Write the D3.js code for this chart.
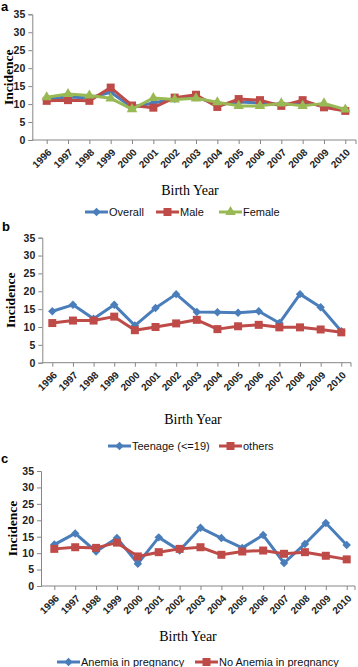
<!DOCTYPE html>
<html>
<head>
<meta charset="utf-8">
<script src="https://cdn.jsdelivr.net/npm/d3@7"></script>
<style>
  body { margin: 0; background: #fff; }
  svg { display: block; }
</style>
</head>
<body>
<svg class="chart" width="358" height="667"></svg>
<script>
// data
const years = ["1996","1997","1998","1999","2000","2001","2002","2003","2004","2005","2006","2007","2008","2009","2010"];
const yTicks = [0, 5, 10, 15, 20, 25, 30, 35];

// panel a
const overall = [11.4, 12.0, 11.7, 13.3, 9.1, 10.3, 11.5, 12.0, 9.8, 10.6, 10.3, 9.9, 10.2, 9.6, 8.3];
const male    = [10.9, 11.1, 10.9, 14.6, 9.6, 9.0, 11.8, 12.6, 9.2, 11.4, 11.1, 9.5, 11.1, 9.1, 8.1];
const female  = [11.9, 12.8, 12.4, 11.6, 8.6, 11.7, 11.3, 11.6, 10.5, 9.5, 9.5, 10.2, 9.5, 10.2, 8.5];

// panel b
const teenage = [14.4, 16.2, 12.3, 16.2, 10.4, 15.3, 19.2, 14.2, 14.1, 14.0, 14.4, 11.1, 19.2, 15.5, 8.8];
const others  = [11.1, 11.8, 11.8, 12.9, 9.1, 10.0, 11.0, 12.0, 9.4, 10.2, 10.6, 9.9, 9.9, 9.3, 8.5];

// panel c
const anemia   = [12.6, 16.0, 10.5, 14.6, 6.8, 14.8, 10.8, 17.7, 14.6, 11.6, 15.5, 7.0, 12.8, 19.2, 12.5];
const noAnemia = [11.3, 11.8, 11.6, 13.2, 9.0, 10.3, 11.3, 11.8, 9.5, 10.5, 10.8, 9.8, 10.3, 9.2, 8.1];

const BLUE = "#4a7ebb", RED = "#be4b48", GREEN = "#98b954";

// excel-like diamond (a square turned 45deg)
const symbolRhomb = {
    draw(ctx, size){
        const r = Math.sqrt(size / 2);
        ctx.moveTo(0, -r);
        ctx.lineTo(r, 0);
        ctx.lineTo(0, r);
        ctx.lineTo(-r, 0);
        ctx.closePath();
    }
};

const svg = d3.select(".chart");

// one panel of the figure
function drawPanel(p){
    const g = svg.append("g");

    const x = d3.scalePoint().domain(years).range([p.x0, p.x1]);
    const y = d3.scaleLinear().domain([0, 35]).range([p.bottom, p.top]);

    // y axis
    const yAxis = g.append("g")
        .attr("transform", `translate(${p.axisX},0)`)
        .call(d3.axisLeft(y).tickValues(yTicks).tickSize(4).tickPadding(3));
    yAxis.select(".domain").attr("stroke", "#868686");
    yAxis.selectAll(".tick line").attr("stroke", "#868686");
    yAxis.selectAll("text")
        .attr("font-family", "Liberation Sans, Arial, sans-serif")
        .attr("font-size", 10.5)
        .attr("font-weight", "bold")
        .attr("fill", "#222");

    // x axis: line across, ticks at the categories
    const xAxis = g.append("g")
        .attr("transform", `translate(0,${p.bottom})`)
        .call(d3.axisBottom(x).tickSize(4).tickSizeOuter(0));
    xAxis.select(".domain").remove();
    xAxis.append("line")
        .attr("x1", p.axisX).attr("x2", p.axisEnd)
        .attr("stroke", "#868686");
    xAxis.append("line")
        .attr("x1", p.axisEnd).attr("x2", p.axisEnd).attr("y2", 4)
        .attr("stroke", "#868686");
    xAxis.selectAll(".tick line").attr("stroke", "#868686");
    xAxis.selectAll(".tick text")
        .attr("font-family", "Liberation Sans, Arial, sans-serif")
        .attr("font-size", 10)
        .attr("font-weight", "bold")
        .attr("fill", "#222")
        .attr("text-anchor", "end")
        .attr("y", 0).attr("dy", 0)
        .attr("transform", "translate(5,13) rotate(-45)");

    // axis titles
    g.append("text")
        .attr("transform", `translate(${p.titleX},${(p.top + p.bottom) / 2}) rotate(-90)`)
        .attr("text-anchor", "middle")
        .attr("font-family", "Liberation Serif, Times New Roman, serif")
        .attr("font-weight", "bold")
        .attr("font-size", 13.5)
        .text("Incidence");

    g.append("text")
        .attr("x", p.xTitleX).attr("y", p.xTitleY)
        .attr("text-anchor", "middle")
        .attr("font-family", "Liberation Serif, Times New Roman, serif")
        .attr("font-size", 14)
        .text("Birth Year");

    g.append("text")
        .attr("x", p.letterX).attr("y", p.letterY)
        .attr("font-family", "Liberation Sans, Arial, sans-serif")
        .attr("font-weight", "bold")
        .attr("font-size", 13)
        .text(p.letter);

    const line = d3.line()
        .x((d, i) => x(years[i]))
        .y(d => y(d));

    // series
    for(let s of p.series){
        g.append("path")
            .datum(s.values)
            .attr("fill", "none")
            .attr("stroke", s.color)
            .attr("stroke-width", 3)
            .attr("stroke-linejoin", "round")
            .attr("d", line);

        g.selectAll(null)
            .data(s.values)
            .join("path")
            .attr("transform", (d, i) => `translate(${x(years[i])},${y(d)})`)
            .attr("fill", s.color)
            .attr("d", d3.symbol().type(s.symbol).size(s.size));
    }

    // legend
    for(let s of p.series){
        const lg = g.append("g").attr("transform", `translate(${s.legendX},${p.legendY})`);
        lg.append("line")
            .attr("x1", 0).attr("x2", 23)
            .attr("stroke", s.color).attr("stroke-width", 3);
        lg.append("path")
            .attr("transform", "translate(11.5,0)")
            .attr("fill", s.color)
            .attr("d", d3.symbol().type(s.symbol).size(s.size));
        lg.append("text")
            .attr("x", 24).attr("y", 4)
            .attr("font-family", "Liberation Sans, Arial, sans-serif")
            .attr("font-size", 11)
            .attr("fill", "#111")
            .text(s.name);
    }
}

drawPanel({
    letter: "a", letterX: 1, letterY: 11,
    top: 14.3, bottom: 140, axisX: 32.3, axisEnd: 356, x0: 46.7, x1: 345.3,
    titleX: 12.5, xTitleX: 190, xTitleY: 195, legendY: 212,
    series: [
        {name: "Overall", values: overall, color: BLUE, symbol: symbolRhomb, size: 36, legendX: 85},
        {name: "Male", values: male, color: RED, symbol: d3.symbolSquare, size: 64, legendX: 156},
        {name: "Female", values: female, color: GREEN, symbol: d3.symbolTriangle, size: 48, legendX: 219}
    ]
});

drawPanel({
    letter: "b", letterX: 2, letterY: 231,
    top: 237.7, bottom: 362.7, axisX: 42.3, axisEnd: 351, x0: 52.3, x1: 341.3,
    titleX: 15, xTitleX: 193, xTitleY: 424, legendY: 446,
    series: [
        {name: "Teenage (<=19)", values: teenage, color: BLUE, symbol: symbolRhomb, size: 36, legendX: 108},
        {name: "others", values: others, color: RED, symbol: d3.symbolSquare, size: 64, legendX: 219}
    ]
});

drawPanel({
    letter: "c", letterX: 1, letterY: 463,
    top: 471, bottom: 586, axisX: 41, axisEnd: 355, x0: 54.3, x1: 346.7,
    titleX: 16.5, xTitleX: 188, xTitleY: 641, legendY: 662,
    series: [
        {name: "Anemia in pregnancy", values: anemia, color: BLUE, symbol: symbolRhomb, size: 36, legendX: 57},
        {name: "No Anemia in pregnancy", values: noAnemia, color: RED, symbol: d3.symbolSquare, size: 64, legendX: 195}
    ]
});
</script>
</body>
</html>
